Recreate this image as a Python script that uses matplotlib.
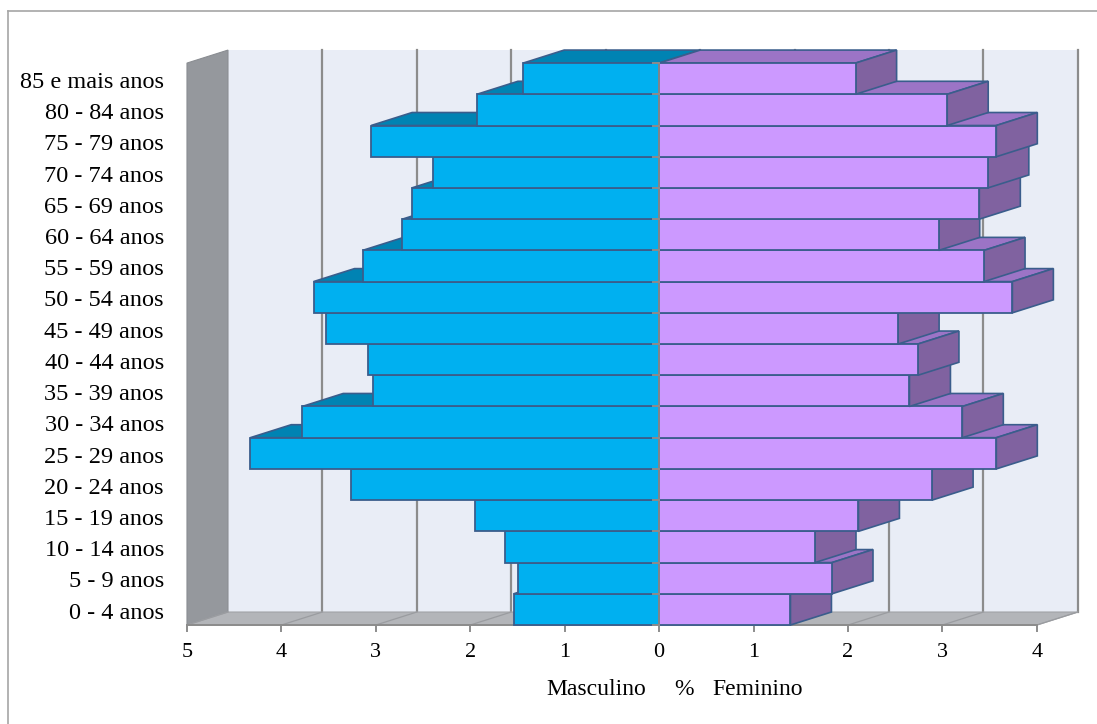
import numpy as np
import matplotlib
matplotlib.use('Agg')
import matplotlib.pyplot as plt
from matplotlib.patches import Polygon
from matplotlib.lines import Line2D

# age groups, bottom to top
faixas = ['0 - 4 anos', '5 - 9 anos', '10 - 14 anos', '15 - 19 anos',
          '20 - 24 anos', '25 - 29 anos', '30 - 34 anos', '35 - 39 anos',
          '40 - 44 anos', '45 - 49 anos', '50 - 54 anos', '55 - 59 anos',
          '60 - 64 anos', '65 - 69 anos', '70 - 74 anos', '75 - 79 anos',
          '80 - 84 anos', '85 e mais anos']

# share of population (%)
masculino = [1.54, 1.49, 1.63, 1.95, 3.26, 4.33, 3.78, 3.03, 3.08,
             3.53, 3.66, 3.14, 2.72, 2.62, 2.39, 3.05, 1.93, 1.44]
feminino = [1.39, 1.83, 1.65, 2.11, 2.89, 3.57, 3.21, 2.65, 2.74,
            2.53, 3.74, 3.44, 2.96, 3.39, 3.48, 3.57, 3.05, 2.08]

ticks = [-5, -4, -3, -2, -1, 0, 1, 2, 3, 4]

# 3d look: offset of the back plane (x in %, y in categories)
dx = 0.434
dy = 0.416
n = len(faixas)
xmin, xmax = ticks[0], ticks[-1]

serif = 'Liberation Serif'
edge = '#3A5D8C'
m_front, m_top = '#00B0F0', '#0083B3'
f_front, f_top, f_side = '#CC99FF', '#9C74C6', '#8062A0'

fig = plt.figure(figsize=(10.97, 7.24), dpi=100)
ax = fig.add_axes([0, 0, 1, 1])
ax.set_xlim(-6.980, 4.636)
ax.set_ylim(-3.171, 20.02)
ax.axis('off')

# frame around the chart area
fig.add_artist(Line2D([8 / 1097, 1], [1 - 11 / 724, 1 - 11 / 724], color='#A6A6A6', lw=1.2))
fig.add_artist(Line2D([8 / 1097, 8 / 1097], [0, 1 - 11 / 724], color='#A6A6A6', lw=1.2))

# back wall and gridlines
ax.add_patch(Polygon([(xmin + dx, dy), (xmax + dx, dy), (xmax + dx, n + dy), (xmin + dx, n + dy)],
                     closed=True, facecolor='#E9EDF6', edgecolor='none', zorder=1))
for t in ticks[1:]:
    ax.plot([t + dx, t + dx], [dy, n + dy], color='#8C8C8C', lw=1.6, zorder=2)

# side wall
ax.add_patch(Polygon([(xmin, 0), (xmin + dx, dy), (xmin + dx, n + dy), (xmin, n)],
                     closed=True, facecolor='#95989D', edgecolor='#8A8D92', lw=0.8, zorder=3))

# floor
ax.add_patch(Polygon([(xmin, 0), (xmax, 0), (xmax + dx, dy), (xmin + dx, dy)],
                     closed=True, facecolor='#B3B5B9', edgecolor='#A0A2A6', lw=0.8, zorder=3))
for t in ticks:
    ax.plot([t, t + dx], [0, dy], color='#9A9CA0', lw=0.9, zorder=3)
ax.plot([xmin, xmax], [0, 0], color='#8C8C8C', lw=1.4, zorder=3)
for t in ticks:
    ax.plot([t, t], [0, -0.18], color='#8C8C8C', lw=1.4, zorder=3)
    ax.text(t, -0.87, str(abs(t)), family=serif, fontsize=16,
            ha='center', va='center', zorder=5)

# bars, painted bottom to top so upper bars hide the lower top faces
for i in range(n):
    m = masculino[i]
    f = feminino[i]
    z = 4 + i * 0.01
    ax.add_patch(Polygon([(-m, i + 1), (0, i + 1), (dx, i + 1 + dy), (-m + dx, i + 1 + dy)],
                         closed=True, facecolor=m_top, edgecolor=edge, lw=1.2, zorder=z))
    ax.add_patch(Polygon([(0, i + 1), (f, i + 1), (f + dx, i + 1 + dy), (dx, i + 1 + dy)],
                         closed=True, facecolor=f_top, edgecolor=edge, lw=1.2, zorder=z))
    ax.add_patch(Polygon([(f, i), (f + dx, i + dy), (f + dx, i + 1 + dy), (f, i + 1)],
                         closed=True, facecolor=f_side, edgecolor=edge, lw=1.2, zorder=z))
    ax.barh(i + 0.5, -m, height=1, left=0, color=m_front, edgecolor=edge, lw=1.3, zorder=z)
    ax.barh(i + 0.5, f, height=1, left=0, color=f_front, edgecolor=edge, lw=1.3, zorder=z)

# central axis with its tick marks
ax.plot([0, 0], [0, n], color='#8C8C8C', lw=1.2, zorder=5)
for k in range(n + 1):
    ax.plot([-0.07, 0], [k, k], color='#8C8C8C', lw=1.4, zorder=5)

# category labels
for i, lab in enumerate(faixas):
    ax.text(xmin - 0.244, i + 0.38, lab, family=serif, fontsize=17.5,
            ha='right', va='center')

ax.text(-0.669, -2.05, 'Masculino', family=serif, fontsize=17, ha='center', va='center')
ax.text(0.263, -2.05, '%', family=serif, fontsize=17, ha='center', va='center')
ax.text(1.046, -2.05, 'Feminino', family=serif, fontsize=17, ha='center', va='center')

plt.savefig('out.png', dpi=100)
